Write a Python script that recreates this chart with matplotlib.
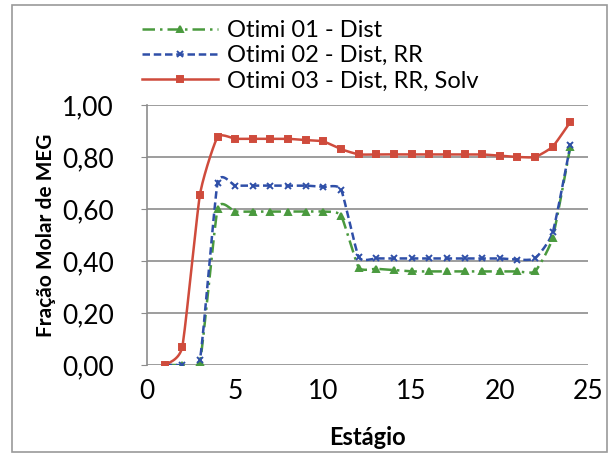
import numpy as np
import matplotlib
matplotlib.use('Agg')
import matplotlib.pyplot as plt
from matplotlib.patches import Rectangle
from matplotlib.lines import Line2D

plt.rcParams['font.family'] = ['Lato', 'DejaVu Sans']

# Stages and MEG molar fractions
estagio = list(range(1, 25))
otimi_01 = [0.00, 0.00, 0.01, 0.60, 0.59, 0.59, 0.59, 0.59, 0.59, 0.59, 0.575, 0.375,
            0.37, 0.365, 0.36, 0.36, 0.36, 0.36, 0.36, 0.36, 0.36, 0.36, 0.49, 0.84]
otimi_02 = [0.00, 0.00, 0.02, 0.70, 0.69, 0.69, 0.69, 0.69, 0.69, 0.685, 0.675, 0.415,
            0.41, 0.41, 0.41, 0.41, 0.41, 0.41, 0.41, 0.41, 0.405, 0.41, 0.51, 0.845]
otimi_03 = [0.00, 0.07, 0.655, 0.877, 0.87, 0.87, 0.87, 0.87, 0.865, 0.86, 0.83, 0.81,
            0.81, 0.81, 0.81, 0.81, 0.81, 0.81, 0.81, 0.805, 0.80, 0.80, 0.84, 0.935]
labels = ['Otimi 01 - Dist', 'Otimi 02 - Dist, RR', 'Otimi 03 - Dist, RR, Solv']
x_ticks = [0, 5, 10, 15, 20, 25]
y_ticks = [0.0, 0.2, 0.4, 0.6, 0.8, 1.0]


# Smoothed line through the points (Hermite curve with low tension, close to Excel's smooth line)
def smooth(x, y, k=0.25, n=16):
  x = np.asarray(x, float)
  y = np.asarray(y, float)
  px = np.concatenate([[x[0]], x, [x[-1]]])
  py = np.concatenate([[y[0]], y, [y[-1]]])
  t = np.linspace(0, 1, n + 1)[1:]
  h00 = 2 * t ** 3 - 3 * t ** 2 + 1
  h10 = t ** 3 - 2 * t ** 2 + t
  h01 = -2 * t ** 3 + 3 * t ** 2
  h11 = t ** 3 - t ** 2
  xs, ys = [x[0]], [y[0]]
  for i in range(1, len(px) - 2):
    for arr, out in ((px, xs), (py, ys)):
      m1 = k * (arr[i + 1] - arr[i - 1])
      m2 = k * (arr[i + 2] - arr[i])
      out.extend(h00 * arr[i] + h10 * m1 + h01 * arr[i + 1] + h11 * m2)
  return xs, ys


fig = plt.figure(figsize=(6.14, 4.57), dpi=100)
fig.patches.append(Rectangle((12 / 614, 5 / 457), 595 / 614, 447 / 457, transform=fig.transFigure,
                             fill=False, edgecolor='#9a9a9a', linewidth=1.2))
ax = fig.add_axes([147 / 614, 92 / 457, 441 / 614, 260 / 457])

series = [
  (otimi_01, '#4a9a3e', (0, (5, 2, 1, 2)), '^', 5),
  (otimi_02, '#2f4fa8', (0, (3, 1.5)), 'x', 4),
  (otimi_03, '#cf4b3c', '-', 's', 4.5),
]
handles = []
for (vals, color, ls, mk, ms), lab in zip(series, labels):
  sx, sy = smooth(estagio, vals)
  ax.plot(sx, sy, color=color, linestyle=ls, linewidth=1.8, zorder=3)
  ax.plot(estagio, vals, linestyle='none', marker=mk, markersize=ms, color=color,
          markeredgewidth=1.4, zorder=4)
  handles.append(Line2D([], [], color=color, linestyle=ls, linewidth=1.8, marker=mk,
                        markersize=ms, markeredgewidth=1.4))

ax.set_xlim(0, 25)
ax.set_ylim(0, 1.0)
ax.set_xticks(x_ticks)
ax.set_yticks(y_ticks)
ax.set_yticklabels(['{:.2f}'.format(v).replace('.', ',') for v in y_ticks])
ax.yaxis.grid(True, color='#8c8c8c', linewidth=1.2)
ax.set_axisbelow(True)
for s in ['top', 'right', 'bottom']:
  ax.spines[s].set_visible(False)
ax.spines['left'].set_color('#8c8c8c')
ax.spines['left'].set_linewidth(1.2)
ax.tick_params(axis='y', length=4, color='#8c8c8c', labelsize=19, pad=20)
ax.tick_params(axis='x', length=0, labelsize=19, pad=10)
ax.set_xlabel('Estágio', fontsize=17, fontweight='bold', labelpad=16)
ax.set_ylabel('Fração Molar de MEG', fontsize=15, fontweight='bold', labelpad=4)

fig.legend(handles=handles, labels=labels, loc='upper left', bbox_to_anchor=(142 / 614, 1 - 20 / 457),
           frameon=False, fontsize=17, handlelength=3.2, handletextpad=0.4, labelspacing=0.18,
           borderaxespad=0, borderpad=0)

fig.savefig('out.png', dpi=100)
